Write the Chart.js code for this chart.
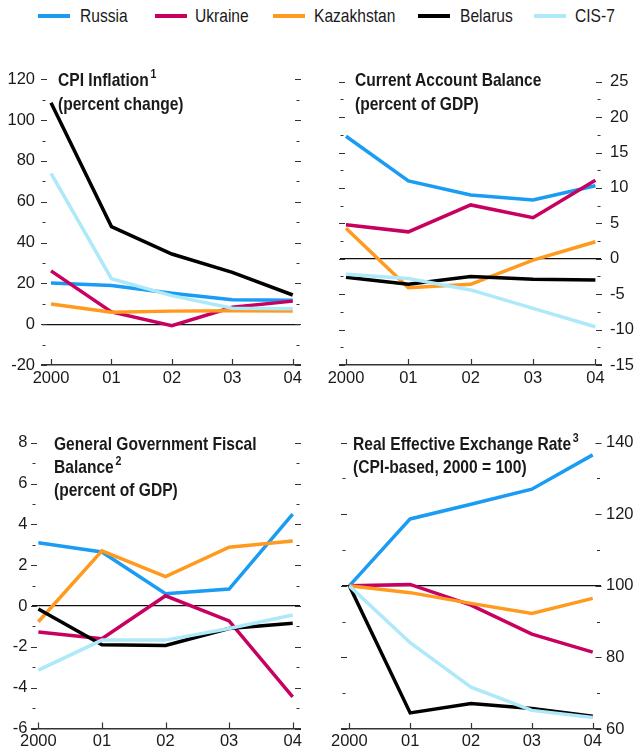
<!DOCTYPE html>
<html><head><meta charset="utf-8">
<script src="https://cdn.jsdelivr.net/npm/chart.js@4"></script>
<style>
html,body{margin:0;padding:0}
body{width:635px;height:753px;background:#fff;position:relative;overflow:hidden;font-family:"Liberation Sans",Arial,sans-serif;color:#1a1a1a}
canvas{position:absolute}
.title{position:absolute;font-weight:bold;font-size:19px;line-height:24px;white-space:nowrap;color:#1a1a1a;transform:scaleX(0.82);transform-origin:0 0}
.title sup{font-size:13px;line-height:0;vertical-align:0;position:relative;top:-8px;margin-left:2px}
.lgline{position:absolute;width:32px;height:4px;top:14px}
.lgtext{position:absolute;top:4px;font-size:19px;line-height:24px;white-space:nowrap;transform:scaleX(0.82);transform-origin:0 0}
</style>
</head><body>
<div id="legend"></div>
<canvas id="c1" width="318" height="345" style="left:0;top:50px"></canvas>
<canvas id="c2" width="317" height="345" style="left:318px;top:50px"></canvas>
<canvas id="c3" width="318" height="333" style="left:0;top:420px"></canvas>
<canvas id="c4" width="317" height="333" style="left:318px;top:420px"></canvas>
<div class="title" style="left:58px;top:68px">CPI Inflation<sup>1</sup><br>(percent change)</div>
<div class="title" style="left:355px;top:68px">Current Account Balance<br>(percent of GDP)</div>
<div class="title" style="left:54px;top:432px;line-height:23px">General Government Fiscal<br>Balance<sup>2</sup><br>(percent of GDP)</div>
<div class="title" style="left:353px;top:432px;line-height:23px">Real Effective Exchange Rate<sup>3</sup><br>(CPI-based, 2000 = 100)</div>
<script>
// ---- data ----
const years = ['2000', '01', '02', '03', '04'];
const seriesNames = ['Russia', 'Ukraine', 'Kazakhstan', 'Belarus', 'CIS-7'];

// order of rows: Russia, Ukraine, Kazakhstan, Belarus, CIS-7
const cpiInflation = [
  [20.2, 18.9, 15.2, 12.0, 11.7],
  [26.1, 6.0, -0.7, 8.3, 11.3],
  [9.9, 5.8, 6.4, 6.6, 6.5],
  [108.5, 47.8, 34.4, 25.4, 14.3],
  [73.9, 22.3, 14.0, 7.8, 7.6]
];
const currentAccount = [
  [17.3, 11.0, 9.0, 8.3, 10.3],
  [4.8, 3.8, 7.6, 5.8, 11.1],
  [4.3, -4.1, -3.6, -0.2, 2.4],
  [-2.6, -3.6, -2.5, -2.9, -3.0],
  [-2.2, -2.8, -4.4, -7.0, -9.6]
];
const fiscalBalance = [
  [3.1, 2.65, 0.6, 0.83, 4.5],
  [-1.27, -1.6, 0.5, -0.73, -4.45],
  [-0.77, 2.7, 1.44, 2.88, 3.19],
  [-0.15, -1.9, -1.93, -1.1, -0.85],
  [-3.14, -1.67, -1.67, -1.1, -0.44]
];
const reer = [
  [100, 118.7, 122.8, 127.0, 136.6],
  [100, 100.4, 94.6, 86.5, 81.5],
  [100, 98.1, 95.1, 92.3, 96.5],
  [100, 64.5, 67.1, 65.7, 63.6],
  [100, 84.1, 71.7, 65.2, 63.2]
];

// ---- styles ----
const colors = ['#1a9cf5', '#c8005f', '#ff9a1f', '#000000', '#aee9fa'];
const drawOrder = [5, 4, 3, 2, 1];
const legendLineX = [38, 155, 273, 418, 534];
const legendTextX = [80, 195, 314, 460, 575];
const FONT = '"Liberation Sans",Arial,sans-serif';
const TXT = '#1a1a1a';
const TICK_SIZE = 16.5;

// legend
const lg = document.getElementById('legend');
seriesNames.forEach((n, i) => {
  const sw = document.createElement('div'); sw.className = 'lgline';
  sw.style.left = legendLineX[i] + 'px'; sw.style.background = colors[i];
  const t = document.createElement('div'); t.className = 'lgtext';
  t.style.left = legendTextX[i] + 'px'; t.textContent = n;
  lg.appendChild(sw); lg.appendChild(t);
});

const tickMarks = {
  id: 'tickMarks',
  afterDraw(chart, args, o) {
    const {ctx, chartArea: a, scales: {x, y}} = chart;
    ctx.save();
    ctx.strokeStyle = '#333';
    ctx.lineWidth = 1.2;
    const n = Math.round((y.max - y.min) / o.minor);
    for (let k = 0; k <= n; k++) {
      const v = y.min + k * o.minor;
      const r = v / o.major;
      const major = Math.abs(r - Math.round(r)) < 1e-6;
      const py = Math.round(y.getPixelForValue(v)) + 0.5;
      ctx.beginPath();
      if (major) {
        ctx.moveTo(a.left - 1, py); ctx.lineTo(a.left + 5, py);
        ctx.moveTo(a.right - 5, py); ctx.lineTo(a.right + 1, py);
      } else {
        ctx.moveTo(a.left + 0.5, py); ctx.lineTo(a.left + 3.5, py);
        ctx.moveTo(a.right - 3.5, py); ctx.lineTo(a.right - 0.5, py);
      }
      ctx.stroke();
    }
    years.forEach((_, i) => {
      const px = Math.round(x.getPixelForValue(i)) + 0.5;
      ctx.beginPath();
      ctx.moveTo(px, a.bottom); ctx.lineTo(px, a.bottom - 6);
      ctx.stroke();
    });
    ctx.restore();
  }
};

function makeChart(id, rows, p) {
  const datasets = rows.map((vals, i) => ({
    label: seriesNames[i],
    data: vals.map((v, j) => ({x: j, y: v})),
    borderColor: colors[i],
    backgroundColor: colors[i],
    borderWidth: 3.5,
    pointRadius: 0,
    tension: 0,
    order: drawOrder[i]
  }));
  return new Chart(document.getElementById(id), {
    type: 'line',
    data: {datasets},
    plugins: [tickMarks],
    options: {
      responsive: false,
      animation: false,
      devicePixelRatio: 1,
      layout: {padding: p.pad},
      plugins: {legend: {display: false}, tooltip: {enabled: false}, tickMarks: {major: p.step, minor: p.step / 2}},
      scales: {
        x: {
          type: 'linear', position: 'bottom',
          min: p.xmin, max: p.xmax,
          afterBuildTicks: s => { s.ticks = years.map((_, i) => ({value: i})); },
          afterFit: s => { s.height = p.xh; },
          grid: {display: false, drawTicks: false},
          border: {display: true, color: '#333', width: 1.5},
          ticks: {
            callback: v => years[v] ?? '',
            font: {family: FONT, size: TICK_SIZE}, color: TXT,
            padding: p.xpad, maxRotation: 0, autoSkip: false
          }
        },
        y: {
          position: p.ypos,
          min: p.ymin, max: p.ymax,
          afterFit: s => { s.width = p.yw; },
          grid: {
            display: true, drawTicks: false,
            color: c => (c.tick && c.tick.value === p.ref) ? '#111' : 'rgba(0,0,0,0)',
            lineWidth: 1.2
          },
          border: {display: false},
          ticks: {stepSize: p.step, font: {family: FONT, size: TICK_SIZE}, color: TXT, padding: p.ypad}
        }
      }
    }
  });
}

makeChart('c1', cpiInflation, {pad: {left: 0, right: 18, top: 29.3, bottom: 0}, xh: 30, yw: 42, ypos: 'left',
  xmin: -0.149, xmax: 4.12, ymin: -20, ymax: 120, step: 20, ref: 0, ypad: 7, xpad: 4});
makeChart('c2', currentAccount, {pad: {left: 22, right: 0, top: 31.7, bottom: 0}, xh: 30, yw: 34, ypos: 'right',
  xmin: -0.096, xmax: 4.09, ymin: -15, ymax: 25, step: 5, ref: 0, ypad: 9, xpad: 4});
makeChart('c3', fiscalBalance, {pad: {left: 0, right: 18, top: 22.7, bottom: 0}, xh: 24.5, yw: 32, ypos: 'left',
  xmin: -0.1, xmax: 4.115, ymin: -6, ymax: 8, step: 2, ref: 0, ypad: 4.5, xpad: 3});
makeChart('c4', reer, {pad: {left: 24, right: 0, top: 22.7, bottom: 0}, xh: 24, yw: 34.5, ypos: 'right',
  xmin: -0.12, xmax: 4.128, ymin: 60, ymax: 140, step: 20, ref: 100, ypad: 5.5, xpad: 3});
</script>
</body></html>
